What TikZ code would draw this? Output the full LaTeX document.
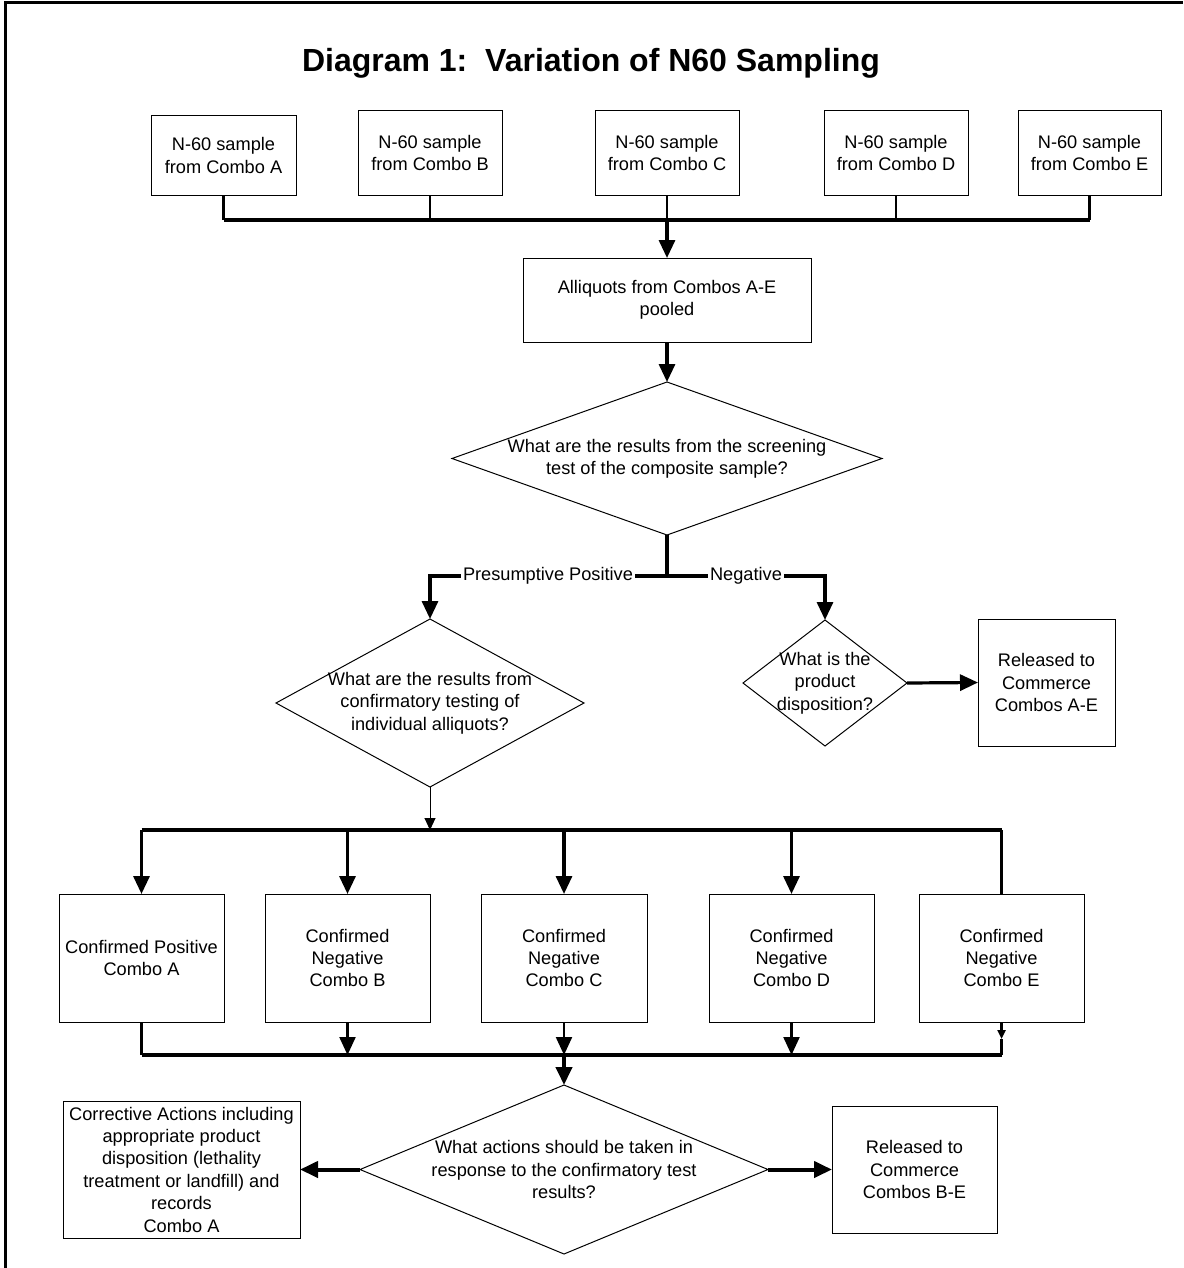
\documentclass[tikz,border=0pt]{standalone}
\usepackage{fontspec}
\setmainfont{Liberation Sans}
\usetikzlibrary{arrows.meta,shapes.geometric}
\begin{document}
\begin{tikzpicture}[x=0.5pt,y=-0.5pt,
    >={Triangle[length=9pt,width=8pt]},
    every node/.style={font=\fontsize{9.1}{11.2}\selectfont,align=center},
    box/.style={draw,line width=0.5pt,rectangle,inner sep=0pt,outer sep=0pt},
    dia/.style={draw,line width=0.5pt,diamond,inner sep=0pt,outer sep=0pt},
    bus/.style={line width=1.6pt},
    feed/.style={line width=1.1pt},
    heavy/.style={line width=2pt},
    branch/.style={fill=white,inner sep=1pt}]
  \useasboundingbox (0,0) rectangle (1183,1268);
  % page frame
  \draw[line width=1.5pt] (5,1268) -- (5,3) -- (1183,3);
  \node[font=\fontsize{16}{18}\selectfont\bfseries,anchor=base] (title) at (591,72) {Diagram 1:\ \ Variation of N60 Sampling};

  % samples
  \node[box,minimum width=72.5pt,minimum height=39.5pt] (sA) at (223.5,155.5) {N-60 sample\\from Combo A};
  \node[box,minimum width=72pt,minimum height=42pt] (sB) at (430,153) {N-60 sample\\from Combo B};
  \node[box,minimum width=72pt,minimum height=42pt] (sC) at (667,153) {N-60 sample\\from Combo C};
  \node[box,minimum width=72pt,minimum height=42pt] (sD) at (896,153) {N-60 sample\\from Combo D};
  \node[box,minimum width=71.5pt,minimum height=42pt] (sE) at (1089.5,153) {N-60 sample\\from Combo E};
  \coordinate (top) at (667,220);
  \draw[bus] (sA.south |- top) -- (sE.south |- top);
  \foreach \s in {A,B,C,D,E}
    \draw[feed] (s\s.south) -- (s\s.south |- top);
  \node[box,minimum width=144pt,minimum height=42pt] (pool) at (667,300) {Alliquots from Combos A-E\\pooled};
  \draw[bus,->] (top) -- (pool.north);

  % screening
  \node[dia,minimum width=215pt,minimum height=76.5pt] (d1) at (667,458.5) {};
  \node (d1t) at (d1) {What are the results from the screening\\test of the composite sample?};
  \draw[bus,->] (pool.south) -- (d1.north);
  \node[dia,minimum width=154pt,minimum height=84pt] (d2) at (430,703) {};
  \node (d2t) at (d2) {What are the results from\\confirmatory testing of\\individual alliquots?};
  \node[dia,minimum width=82pt,minimum height=63pt] (d3) at (825,683) {};
  \node (d3t) at (d3) {What is the\\product\\disposition?};
  \node[box,minimum width=68.5pt,minimum height=63.5pt] (rA) at (1046.5,682.5) {Released to\\Commerce\\Combos A-E};
  \coordinate (j1) at (667,576);
  \draw[bus] (d1.south) -- (j1);
  \draw[bus,->] (j1) -- (j1 -| d2.north) -- (d2.north);
  \draw[bus,->] (j1) -- (j1 -| d3.north) -- (d3.north);
  \node[branch] (pos) at (548,576) {Presumptive Positive};
  \node[branch] (neg) at (746,576) {Negative};
  \draw[bus,->] (d3.east) -- (rA.west);

  % confirmatory results
  \node[box,minimum width=82.5pt,minimum height=64pt] (cA) at (141.5,958) {Confirmed Positive\\Combo A};
  \node[box,minimum width=82.5pt,minimum height=64pt] (cB) at (347.5,958) {Confirmed\\Negative\\Combo B};
  \node[box,minimum width=83pt,minimum height=64pt] (cC) at (564,958) {Confirmed\\Negative\\Combo C};
  \node[box,minimum width=82.5pt,minimum height=64pt] (cD) at (791.5,958) {Confirmed\\Negative\\Combo D};
  \node[box,minimum width=82.5pt,minimum height=64pt] (cE) at (1001.5,958) {Confirmed\\Negative\\Combo E};
  \coordinate (split) at (430,830);
  \draw[line width=0.5pt,-{Triangle[length=6pt,width=5.5pt]}] (d2.south) -- (split);
  \draw[bus] (cA.north |- split) -- (cE.north |- split);
  \foreach \c in {A,B,C,D}
    \draw[bus,->] (c\c.north |- split) -- (c\c.north);
  \draw[bus] (cE.north |- split) -- (cE.north);

  \coordinate (merge) at (564,1055);
  \coordinate (eTip) at (1001.5,1039);
  \draw[bus] (cA.south |- merge) -- (cE.south |- merge);
  \draw[feed] (cA.south) -- (cA.south |- merge);
  \foreach \c in {B,C,D}
    \draw[feed,->] (c\c.south) -- (c\c.south |- merge);
  \draw[feed,-{Triangle[length=4.5pt,width=4pt]}] (cE.south) -- (eTip);
  \draw[feed] (eTip) -- (cE.south |- merge);

  % actions
  \node[dia,minimum width=204pt,minimum height=84.5pt] (d4) at (564,1169.5) {};
  \node (d4t) at (d4) {What actions should be taken in\\response to the confirmatory test\\results?};
  \draw[heavy,->] (merge) -- (d4.north);
  \node[box,minimum width=118.5pt,minimum height=68.5pt] (corr) at (181.5,1169.5) {Corrective Actions including\\appropriate product\\disposition (lethality\\treatment or landfill) and\\records\\Combo A};
  \node[box,minimum width=82.5pt,minimum height=63.5pt] (rB) at (914.5,1169.5) {Released to\\Commerce\\Combos B-E};
  \draw[heavy,->] (d4.west) -- (corr.east);
  \draw[heavy,->] (d4.east) -- (rB.west);
\end{tikzpicture}
\end{document}
